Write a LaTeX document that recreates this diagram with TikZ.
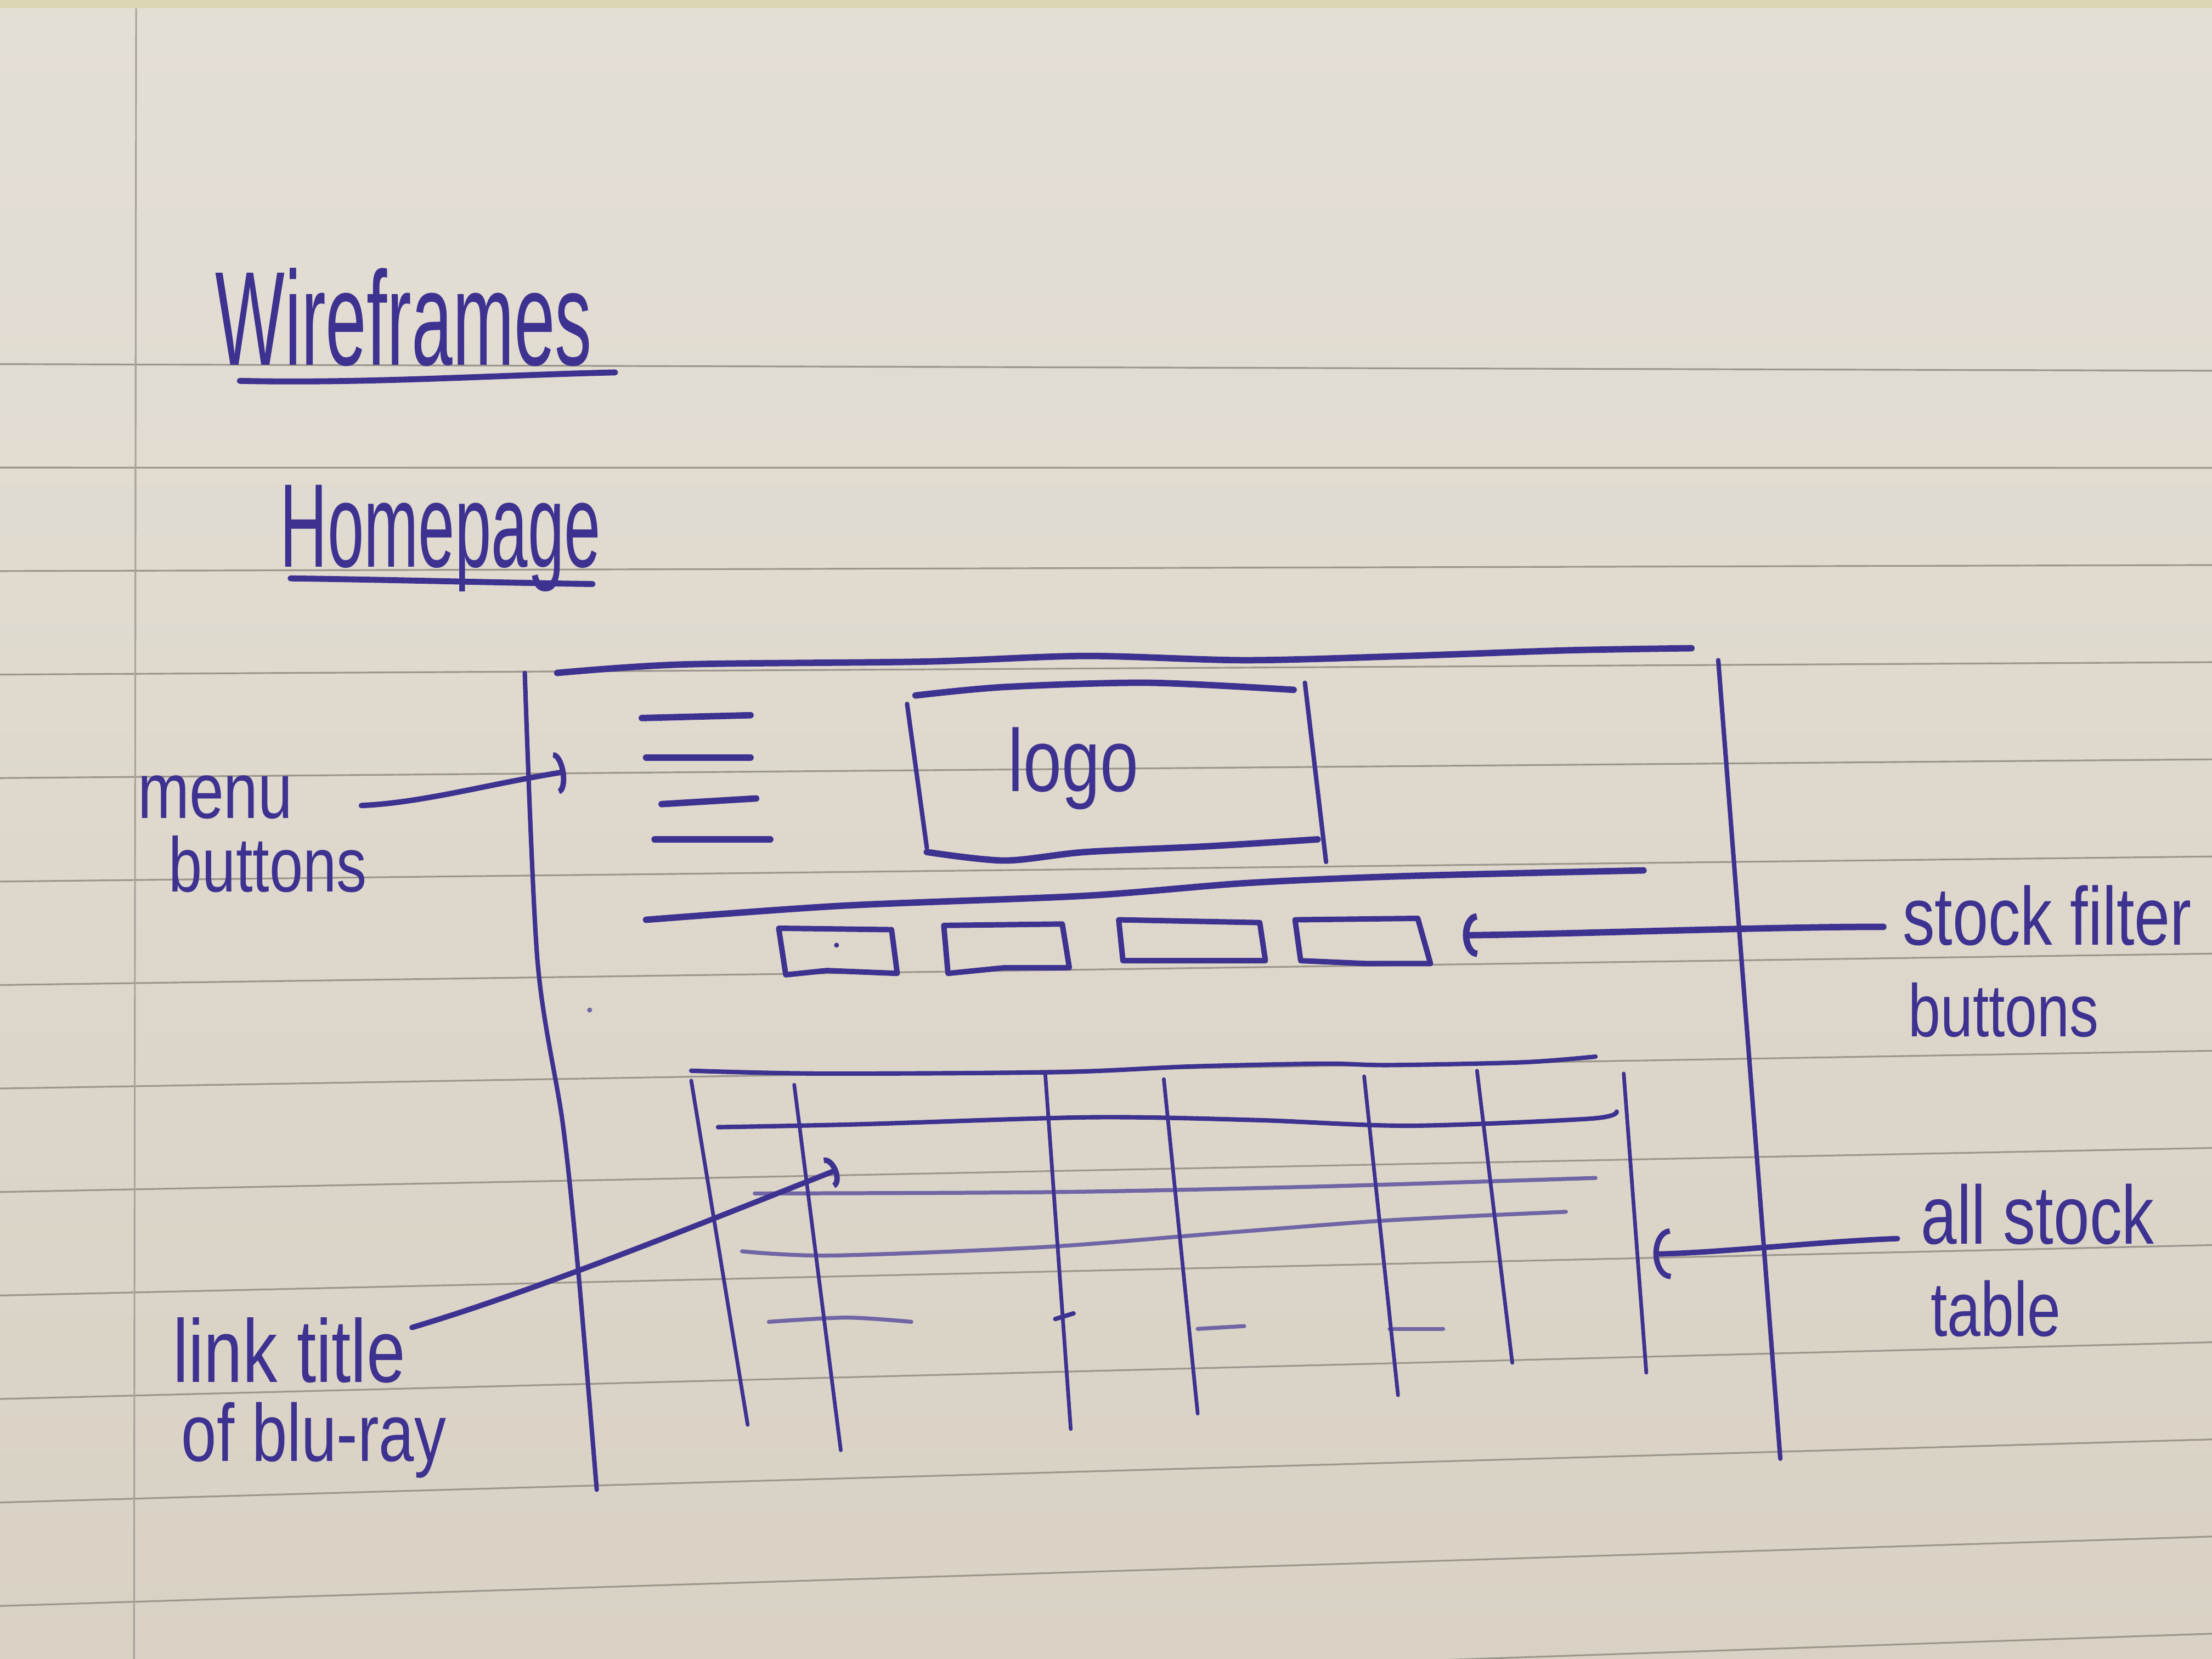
\documentclass[tikz,border=0pt]{standalone}
\usepackage{fontspec}
\usetikzlibrary{arrows.meta}
\newfontfamily\hand{Liberation Sans}[FakeStretch=0.78]
\newfontfamily\headhand{Liberation Sans}[FakeStretch=0.55]
\definecolor{paper top}{RGB}{228,223,213}
\definecolor{paper bottom}{RGB}{216,209,196}
\definecolor{paper edge}{RGB}{220,214,180}
\definecolor{rule line}{RGB}{156,151,141}
\definecolor{margin line}{RGB}{168,163,155}
\definecolor{pen}{RGB}{62,50,145}
\colorlet{pen faint}{pen!70!paper top}
\tikzset{ink/.style={draw=pen, line width=0.9pt, line cap=round, line join=round},
    heavy/.style={ink, line width=1.3pt},
    faint/.style={ink, draw=pen faint, line width=0.8pt},
    rule/.style={draw=rule line, line width=0.35pt},
    note/.style={font=\hand\fontsize{#1}{#1}\selectfont, text=pen, inner sep=0pt, anchor=base west},
    heading/.style={font=\headhand\fontsize{#1}{#1}\selectfont, text=pen, inner sep=0pt, anchor=base west}}
\def\page{(0,0) rectangle (1568,1176)}

\begin{document}
\begin{tikzpicture}[x=0.01cm, y=-0.01cm]
 \useasboundingbox \page;
 \shade[top color=paper top, bottom color=paper bottom] \page;
 \fill[paper edge] (0,0) rectangle (1568,6);

 % ruled paper
 \begin{scope}
 \clip \page;
 \foreach \k in {0,...,13}{
   \pgfmathsetmacro\ymid{259+72.5*\k}
   \pgfmathsetmacro\yleft{\ymid+(\ymid-335)*0.01186}
   \pgfmathsetmacro\yright{\ymid-(\ymid-335)*0.05012}
   \draw[rule] (0,\yleft) -- (1568,\yright);
 }
 \draw[draw=margin line, line width=0.35pt] (96.5,6) -- (95,1176);
 \end{scope}

 % titles
 \node[heading=27] (wire) at (152,259) {Wireframes};
 \draw[ink, line width=1.2pt] (170,270) .. controls (260,272) and (350,266) .. (436,264);
 \node[heading=24] (home) at (198,402) {Homepage};
 \draw[ink, line width=1.2pt] (206,410) .. controls (280,411) and (350,413) .. (420,414);

 % page frame
 \draw[heavy] plot[smooth] coordinates {(395,477) (484,471) (655,469) (769,465) (883,468) (997,465) (1111,461) (1199,459.5)};
 \draw[ink] plot[smooth] coordinates {(372,477) (381,681) (399,797) (410,902) (423,1056)};
 \draw[ink] (1218,468) -- (1262,1034);

 % menu icon
 \foreach \xa/\ya/\xb/\yb in {455/509/532/507, 458/537/532/537, 469/570/536/566, 464/595/546/595}
   \draw[heavy] (\xa,\ya) -- (\xb,\yb);

 % logo box
 \draw[heavy] plot[smooth] coordinates {(649,493) (712,487) (814,484) (917,489)};
 \draw[ink] (643,499) -- (657,601);
 \draw[ink] (925,484) -- (940,611);
 \draw[heavy] plot[smooth] coordinates {(657,604) (712,610) (769,604) (854,600) (934,595)};
 \node[note=17.8] (logo) at (714,561) {logo};

 % header rule and filter buttons
 \draw[heavy] plot[smooth] coordinates {(458,652) (598,642) (769,635) (883,626) (997,621) (1165,617)};
 \draw[ink, line width=1.1pt] (552,658) -- (632,659) -- (636,690) -- (586,688) -- (557,691) -- cycle;
 \draw[ink, line width=1.1pt] (669,656) -- (753,655) -- (758,686) -- (712,686) -- (672,690) -- cycle;
 \draw[ink, line width=1.1pt] (793,652) -- (893,654) -- (897,681) -- (843,681) -- (796,681) -- cycle;
 \draw[ink, line width=1.1pt] (918,652) -- (1005,651) -- (1014,683) -- (968,683) -- (922,681) -- cycle;
 \fill[pen] (593,670) circle (0.5pt);
 \fill[pen faint] (418,716) circle (0.5pt);

 % stock table
 \draw[ink] plot[smooth] coordinates {(490,759) (580,761) (750,760) (844,756) (938,754) (985,755) (1080,753) (1131,749)};
 \draw[ink] plot[smooth] coordinates {(509,799) (608,797) (773,792) (891,794) (999,798) (1127,793) (1146,788)};
 \draw[faint] plot[smooth] coordinates {(535,846) (750,845) (938,841) (1131,835)};
 \draw[faint] plot[smooth] coordinates {(526,887) (589,890) (740,884) (867,874) (985,865) (1110,859)};
 \draw[faint] plot[smooth] coordinates {(545,937) (600,934) (646,937)};
 \draw[ink] (748,935) -- (761,931);
 \draw[faint] (849,942) -- (882,940);
 \draw[faint] (985,942) -- (1023,942);
 \foreach \xa/\ya/\xb/\yb in {490/766/530/1010, 563/769/596/1028, 741/762/759/1013, 825/765/849/1002, 967/763/991/989, 1047/759/1072/966, 1151/761/1167/973}
   \draw[ink, line width=0.75pt] (\xa,\ya) -- (\xb,\yb);

 % notes
 \node[note=16] (menu) at (97,580) {menu};
 \node[note=15.6] (menubtn) at (119,632) {buttons};
 \node[note=16.6] (filter) at (1348,670) {stock filter};
 \node[note=15] (filterbtn) at (1352,735) {buttons};
 \node[note=16.7] (allstock) at (1361,882) {all stock};
 \node[note=15.5] (table) at (1368,947) {table};
 \node[note=18, text depth=0pt] (link) at (122,980) {link title};
 \node[note=16.4] (bluray) at (128,1036) {of blu-ray};

 % pointers
 \coordinate (menu tip) at (401,547);
 \coordinate (filter tip) at (1037,663);
 \coordinate (table tip) at (1172,889);
 \coordinate (link tip) at (594,829);
 \draw[ink, line width=1.1pt, -{Arc Barb[width=0.3cm, length=0.07cm]}] ([shift={(48,-9)}]menu.base east) .. controls (300,569) and (345,556) .. (menu tip);
 \draw[heavy, -{Arc Barb[width=0.31cm, length=0.1cm]}] ([shift={(-13,-13)}]filter.base west) .. controls (1250,657) and (1120,662) .. (filter tip);
 \draw[ink, line width=1.1pt, -{Arc Barb[width=0.36cm, length=0.12cm]}] ([shift={(-16,-4)}]allstock.base west) .. controls (1290,880) and (1220,888) .. (table tip);
 \draw[ink, line width=1.1pt, -{Arc Barb[width=0.23cm, length=0.07cm]}] ([shift={(4,-39)}]link.base east) .. controls (380,915) and (500,866) .. (link tip);
\end{tikzpicture}
\end{document}
